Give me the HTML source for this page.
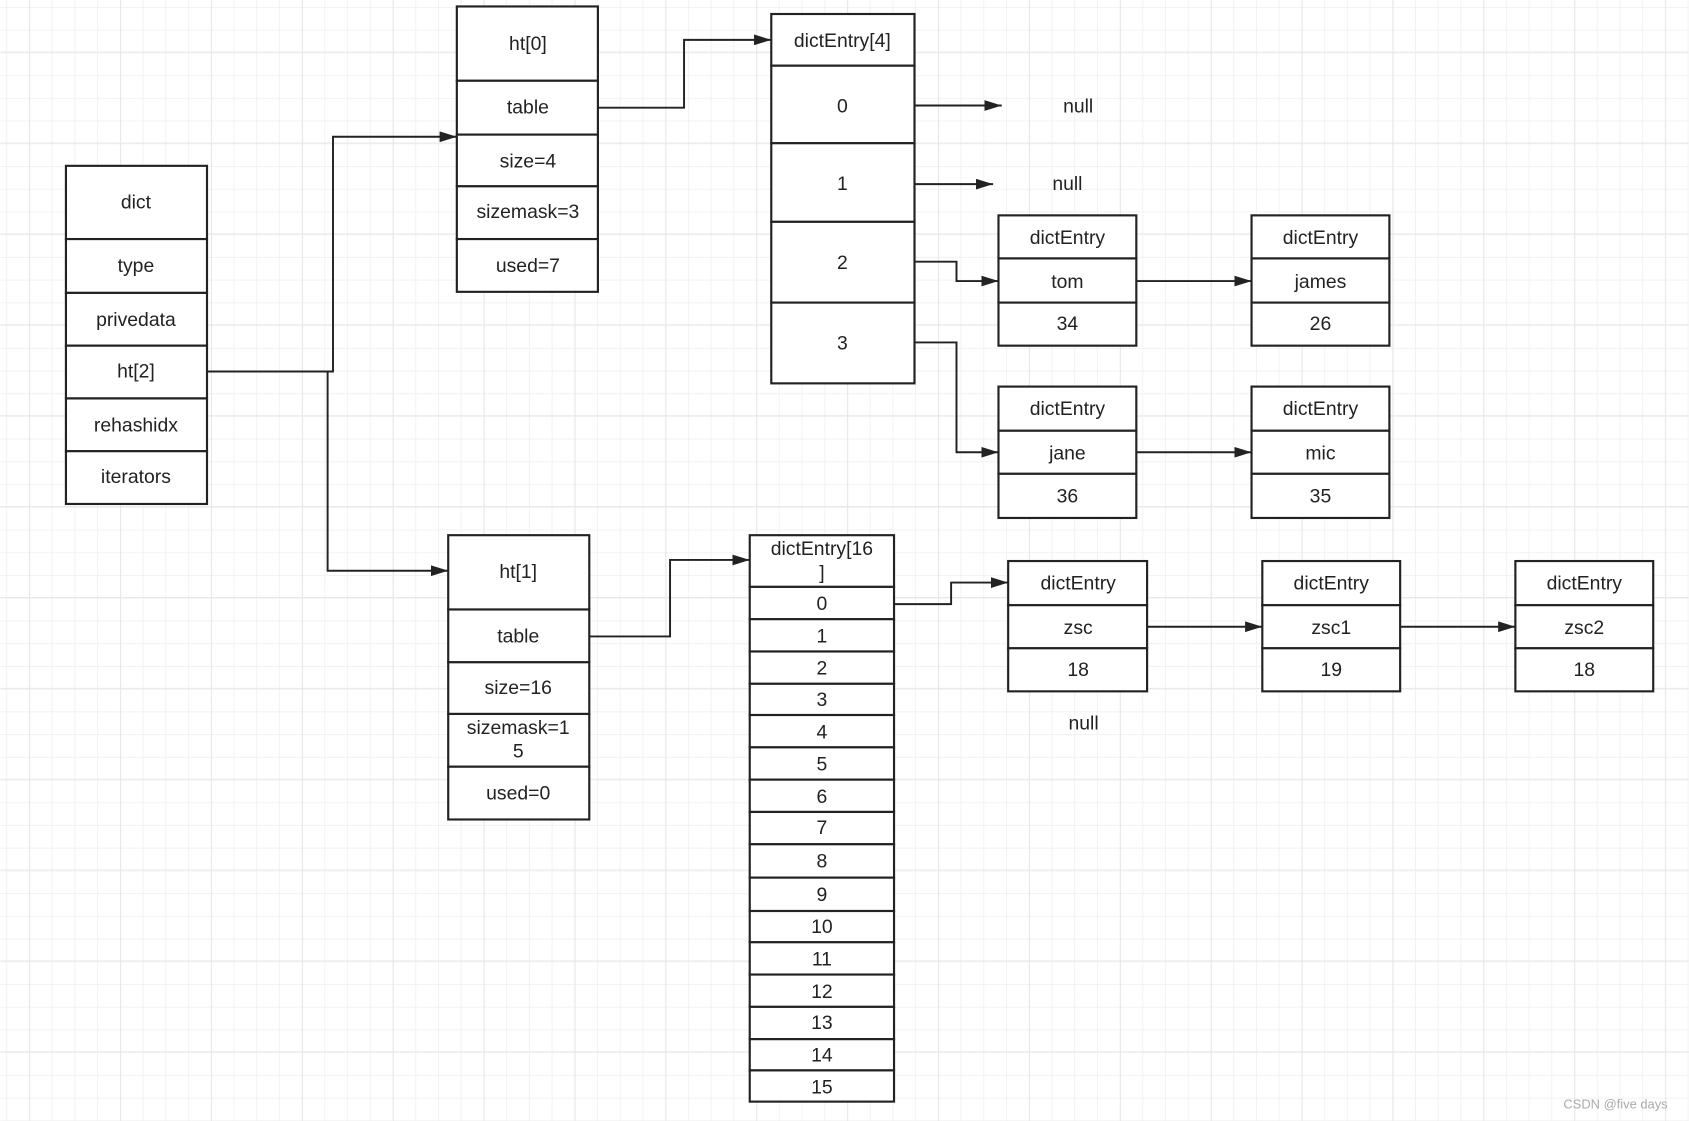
<!DOCTYPE html>
<html><head><meta charset="utf-8"><style>
html,body{margin:0;padding:0;background:#fff;}
svg{display:block;}
text{font-family:"Liberation Sans","DejaVu Sans",sans-serif;font-size:18px;fill:#222;text-anchor:middle;dominant-baseline:central;}
.b{fill:#fff;stroke:#222;stroke-width:2;}
.l{fill:none;stroke:#222;stroke-width:1.8;}
</style></head><body>
<svg width="1689" height="1121" viewBox="0 0 1568 1041" xmlns="http://www.w3.org/2000/svg">
<defs>
<pattern id="mi" width="21.1" height="21.1" patternUnits="userSpaceOnUse" x="5.6" y="6.5"><path d="M0 0H21.1M0 0V21.1" stroke="#f0f0f0" stroke-width="1.5" fill="none"/></pattern>
<pattern id="ma" width="84.4" height="84.4" patternUnits="userSpaceOnUse" x="27" y="48"><path d="M0 0H84.4M0 0V84.4" stroke="#e4e4e4" stroke-width="1.5" fill="none"/></pattern>
<marker id="a" markerWidth="10" markerHeight="8" refX="10" refY="4" orient="auto" markerUnits="userSpaceOnUse"><path d="M0 0L10 4L0 8Z" fill="#222"/></marker>
<marker id="a2" markerWidth="16" markerHeight="10" refX="16" refY="5" orient="auto" markerUnits="userSpaceOnUse"><path d="M0 0L16 5L0 10Z" fill="#222"/></marker>
</defs>
<rect width="1568" height="1041" fill="url(#mi)"/>
<rect width="1568" height="1041" fill="url(#ma)"/>

<!-- dict -->
<g>
<rect class="b" x="61" y="154" width="131" height="68"/><text x="126" y="188">dict</text>
<rect class="b" x="61" y="222" width="131" height="50"/><text x="126" y="247">type</text>
<rect class="b" x="61" y="272" width="131" height="49"/><text x="126" y="297">privedata</text>
<rect class="b" x="61" y="321" width="131" height="49"/><text x="126" y="345">ht[2]</text>
<rect class="b" x="61" y="370" width="131" height="49"/><text x="126" y="395">rehashidx</text>
<rect class="b" x="61" y="419" width="131" height="49"/><text x="126" y="443">iterators</text>
</g>
<!-- ht[0] -->
<g>
<rect class="b" x="424" y="6" width="131" height="69"/><text x="490" y="41">ht[0]</text>
<rect class="b" x="424" y="75" width="131" height="50"/><text x="490" y="100">table</text>
<rect class="b" x="424" y="125" width="131" height="48"/><text x="490" y="150">size=4</text>
<rect class="b" x="424" y="173" width="131" height="49"/><text x="490" y="197">sizemask=3</text>
<rect class="b" x="424" y="222" width="131" height="49"/><text x="490" y="247">used=7</text>
</g>
<!-- ht[1] -->
<g>
<rect class="b" x="416" y="497" width="131" height="69"/><text x="481" y="531">ht[1]</text>
<rect class="b" x="416" y="566" width="131" height="49"/><text x="481" y="591">table</text>
<rect class="b" x="416" y="615" width="131" height="48"/><text x="481" y="639">size=16</text>
<rect class="b" x="416" y="663" width="131" height="49"/><text x="481" y="676">sizemask=1</text><text x="481" y="698">5</text>
<rect class="b" x="416" y="712" width="131" height="49"/><text x="481" y="737">used=0</text>
</g>
<!-- dictEntry[4] -->
<g>
<rect class="b" x="716" y="13" width="133" height="48"/><text x="782" y="38">dictEntry[4]</text>
<rect class="b" x="716" y="61" width="133" height="72"/><text x="782" y="99">0</text>
<rect class="b" x="716" y="133" width="133" height="73"/><text x="782" y="171">1</text>
<rect class="b" x="716" y="206" width="133" height="75"/><text x="782" y="244">2</text>
<rect class="b" x="716" y="281" width="133" height="75"/><text x="782" y="319">3</text>
</g>
<text x="1001" y="99">null</text>
<text x="991" y="171">null</text>
<text x="1006" y="672">null</text>

<!-- entries top -->
<g>
<rect class="b" x="927" y="200" width="128" height="40"/><text x="991" y="221">dictEntry</text>
<rect class="b" x="927" y="240" width="128" height="41"/><text x="991" y="262">tom</text>
<rect class="b" x="927" y="281" width="128" height="40"/><text x="991" y="301">34</text>
<rect class="b" x="1162" y="200" width="128" height="40"/><text x="1226" y="221">dictEntry</text>
<rect class="b" x="1162" y="240" width="128" height="41"/><text x="1226" y="262">james</text>
<rect class="b" x="1162" y="281" width="128" height="40"/><text x="1226" y="301">26</text>
<rect class="b" x="927" y="359" width="128" height="41"/><text x="991" y="380">dictEntry</text>
<rect class="b" x="927" y="400" width="128" height="40"/><text x="991" y="421">jane</text>
<rect class="b" x="927" y="440" width="128" height="41"/><text x="991" y="461">36</text>
<rect class="b" x="1162" y="359" width="128" height="41"/><text x="1226" y="380">dictEntry</text>
<rect class="b" x="1162" y="400" width="128" height="40"/><text x="1226" y="421">mic</text>
<rect class="b" x="1162" y="440" width="128" height="41"/><text x="1226" y="461">35</text>
</g>
<!-- entries bottom -->
<g>
<rect class="b" x="936" y="521" width="129" height="41"/><text x="1001" y="542">dictEntry</text>
<rect class="b" x="936" y="562" width="129" height="40"/><text x="1001" y="583">zsc</text>
<rect class="b" x="936" y="602" width="129" height="40"/><text x="1001" y="622">18</text>
<rect class="b" x="1172" y="521" width="128" height="41"/><text x="1236" y="542">dictEntry</text>
<rect class="b" x="1172" y="562" width="128" height="40"/><text x="1236" y="583">zsc1</text>
<rect class="b" x="1172" y="602" width="128" height="40"/><text x="1236" y="622">19</text>
<rect class="b" x="1407" y="521" width="128" height="41"/><text x="1471" y="542">dictEntry</text>
<rect class="b" x="1407" y="562" width="128" height="40"/><text x="1471" y="583">zsc2</text>
<rect class="b" x="1407" y="602" width="128" height="40"/><text x="1471" y="622">18</text>
</g>
<!-- dictEntry[16] -->
<g>
<rect class="b" x="696" y="497" width="134" height="48"/><text x="763" y="510">dictEntry[16</text><text x="763" y="532">]</text>
<rect class="b" x="696" y="545" width="134" height="30"/><text x="763" y="561">0</text>
<rect class="b" x="696" y="575" width="134" height="30"/><text x="763" y="591">1</text>
<rect class="b" x="696" y="605" width="134" height="30"/><text x="763" y="621">2</text>
<rect class="b" x="696" y="635" width="134" height="29"/><text x="763" y="650">3</text>
<rect class="b" x="696" y="664" width="134" height="30"/><text x="763" y="680">4</text>
<rect class="b" x="696" y="694" width="134" height="30"/><text x="763" y="710">5</text>
<rect class="b" x="696" y="724" width="134" height="30"/><text x="763" y="740">6</text>
<rect class="b" x="696" y="754" width="134" height="30"/><text x="763" y="769">7</text>
<rect class="b" x="696" y="784" width="134" height="31"/><text x="763" y="800">8</text>
<rect class="b" x="696" y="815" width="134" height="31"/><text x="763" y="831">9</text>
<rect class="b" x="696" y="846" width="134" height="29"/><text x="763" y="861">10</text>
<rect class="b" x="696" y="875" width="134" height="30"/><text x="763" y="891">11</text>
<rect class="b" x="696" y="905" width="134" height="30"/><text x="763" y="921">12</text>
<rect class="b" x="696" y="935" width="134" height="30"/><text x="763" y="950">13</text>
<rect class="b" x="696" y="965" width="134" height="29"/><text x="763" y="980">14</text>
<rect class="b" x="696" y="994" width="134" height="29"/><text x="763" y="1010">15</text>
</g>

<!-- connectors -->
<path class="l" d="M192 345H309V127H424" marker-end="url(#a2)"/>
<path class="l" d="M304 345V530H416" marker-end="url(#a2)"/>
<path class="l" d="M555 100H635V37H716" marker-end="url(#a2)"/>
<path class="l" d="M547 591H622V520H696" marker-end="url(#a2)"/>
<path class="l" d="M849 98H930" marker-end="url(#a2)"/>
<path class="l" d="M849 171H922" marker-end="url(#a2)"/>
<path class="l" d="M849 243H888V261H927" marker-end="url(#a2)"/>
<path class="l" d="M849 318H888V420H927" marker-end="url(#a2)"/>
<path class="l" d="M1055 261H1162" marker-end="url(#a2)"/>
<path class="l" d="M1055 420H1162" marker-end="url(#a2)"/>
<path class="l" d="M830 561H883V541H936" marker-end="url(#a2)"/>
<path class="l" d="M1065 582H1172" marker-end="url(#a2)"/>
<path class="l" d="M1300 582H1407" marker-end="url(#a2)"/>

<text x="1500" y="1025" style="font-size:12px;fill:#aaa;">CSDN @five days</text>
</svg>
</body></html>
